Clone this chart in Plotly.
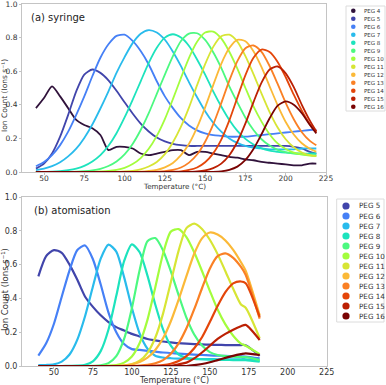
import plotly.graph_objects as go

W, H = 386, 385

# ---------------- data: (a) syringe ----------------
T_A = [45, 50, 55, 60, 65, 70, 75, 80, 85, 90, 95, 100, 105, 110, 115, 120, 125, 130,
       135, 140, 145, 150, 155, 160, 165, 170, 175, 180, 185, 190, 195, 200, 205, 210, 215, 219]

A_PEG4 = [0.38, 0.44, 0.51, 0.45, 0.38, 0.31, 0.28, 0.26, 0.22, 0.13, 0.15, 0.15, 0.14, 0.11, 0.10, 0.11, 0.12, 0.13,
          0.13, 0.10, 0.12, 0.12, 0.11, 0.10, 0.09, 0.085, 0.075, 0.07, 0.06, 0.055, 0.05, 0.045, 0.04, 0.04, 0.05, 0.05]
A_PEG5 = [0.02, 0.05, 0.11, 0.21, 0.34, 0.48, 0.58, 0.61, 0.59, 0.546, 0.484, 0.415, 0.348, 0.288, 0.241, 0.205, 0.182, 0.168,
          0.16, 0.155, 0.155, 0.155, 0.155, 0.155, 0.155, 0.155, 0.155, 0.155, 0.155, 0.155, 0.155, 0.155, 0.15, 0.14, 0.12, 0.11]
A_PEG6 = [0.034, 0.059, 0.10, 0.16, 0.24, 0.34, 0.45, 0.57, 0.68, 0.76, 0.81, 0.817, 0.78, 0.72, 0.64, 0.54, 0.45, 0.38,
          0.32, 0.277, 0.248, 0.23, 0.22, 0.215, 0.21, 0.21, 0.21, 0.215, 0.22, 0.225, 0.23, 0.235, 0.24, 0.245, 0.25, 0.25]
A_PEG7 = [0.011, 0.02, 0.035, 0.058, 0.093, 0.139, 0.203, 0.283, 0.378, 0.48, 0.59, 0.684, 0.767, 0.823, 0.845, 0.83, 0.787, 0.716,
          0.63, 0.534, 0.445, 0.362, 0.293, 0.24, 0.20, 0.173, 0.155, 0.145, 0.14, 0.135, 0.135, 0.135, 0.135, 0.14, 0.14, 0.14]
A_PEG8 = [0.0, 0.001, 0.002, 0.005, 0.011, 0.02, 0.036, 0.062, 0.10, 0.156, 0.231, 0.325, 0.43, 0.54, 0.65, 0.74, 0.80, 0.82,
          0.80, 0.75, 0.67, 0.58, 0.48, 0.39, 0.31, 0.245, 0.197, 0.164, 0.141, 0.127, 0.12, 0.115, 0.112, 0.11, 0.11, 0.11]
A_PEG9 = [0.0, 0.0, 0.0, 0.0, 0.001, 0.002, 0.005, 0.01, 0.019, 0.036, 0.063, 0.105, 0.167, 0.25, 0.35, 0.465, 0.58, 0.69,
          0.78, 0.824, 0.826, 0.786, 0.713, 0.62, 0.51, 0.414, 0.323, 0.25, 0.195, 0.157, 0.132, 0.118, 0.11, 0.105, 0.10, 0.10]
A_PEG10 = [0.0, 0.0, 0.0, 0.0, 0.0, 0.0, 0.0, 0.001, 0.003, 0.006, 0.013, 0.025, 0.047, 0.083, 0.138, 0.215, 0.315, 0.434,
           0.56, 0.68, 0.775, 0.83, 0.836, 0.795, 0.716, 0.615, 0.50, 0.39, 0.30, 0.225, 0.17, 0.137, 0.115, 0.105, 0.098, 0.095]
A_PEG11 = [0.0, 0.0, 0.0, 0.0, 0.0, 0.0, 0.0, 0.0, 0.0, 0.0, 0.001, 0.003, 0.007, 0.016, 0.033, 0.06, 0.106, 0.177,
           0.27, 0.385, 0.517, 0.642, 0.745, 0.808, 0.817, 0.776, 0.69, 0.583, 0.467, 0.357, 0.265, 0.195, 0.147, 0.116, 0.10, 0.095]
A_PEG12 = [0.0, 0.0, 0.0, 0.0, 0.0, 0.0, 0.0, 0.0, 0.0, 0.0, 0.0, 0.0, 0.001, 0.002, 0.006, 0.013, 0.028, 0.054,
           0.10, 0.168, 0.265, 0.385, 0.517, 0.644, 0.738, 0.787, 0.778, 0.719, 0.624, 0.51, 0.397, 0.298, 0.223, 0.171, 0.138, 0.121]
A_PEG13 = [0.0, 0.0, 0.0, 0.0, 0.0, 0.0, 0.0, 0.0, 0.0, 0.0, 0.0, 0.0, 0.0, 0.0, 0.001, 0.002, 0.005, 0.012,
           0.027, 0.056, 0.104, 0.18, 0.283, 0.41, 0.544, 0.66, 0.737, 0.753, 0.715, 0.631, 0.524, 0.411, 0.314, 0.237, 0.185, 0.159]
A_PEG14 = [0.0, 0.0, 0.0, 0.0, 0.0, 0.0, 0.0, 0.0, 0.0, 0.0, 0.0, 0.0, 0.0, 0.0, 0.0, 0.0, 0.001, 0.002,
           0.004, 0.012, 0.027, 0.058, 0.111, 0.193, 0.307, 0.443, 0.577, 0.68, 0.729, 0.714, 0.655, 0.564, 0.46, 0.365, 0.285, 0.238]
A_PEG15 = [0.0, 0.0, 0.0, 0.0, 0.0, 0.0, 0.0, 0.0, 0.0, 0.0, 0.0, 0.0, 0.0, 0.0, 0.0, 0.0, 0.0, 0.0,
           0.0, 0.001, 0.003, 0.009, 0.023, 0.05, 0.10, 0.18, 0.289, 0.416, 0.532, 0.61, 0.628, 0.587, 0.505, 0.40, 0.306, 0.242]
A_PEG16 = [0.0, 0.0, 0.0, 0.0, 0.0, 0.0, 0.0, 0.0, 0.0, 0.0, 0.0, 0.0, 0.0, 0.0, 0.0, 0.0, 0.0, 0.0,
           0.0, 0.0, 0.0, 0.0, 0.001, 0.004, 0.013, 0.032, 0.072, 0.137, 0.225, 0.32, 0.395, 0.42, 0.40, 0.35, 0.28, 0.23]

A_NAMES = ["PEG 4", "PEG 5", "PEG 6", "PEG 7", "PEG 8", "PEG 9", "PEG 10",
           "PEG 11", "PEG 12", "PEG 13", "PEG 14", "PEG 15", "PEG 16"]
A_SERIES = [A_PEG4, A_PEG5, A_PEG6, A_PEG7, A_PEG8, A_PEG9, A_PEG10,
            A_PEG11, A_PEG12, A_PEG13, A_PEG14, A_PEG15, A_PEG16]

# ---------------- data: (b) atomisation ----------------
T_B = [40, 45, 50, 55, 60, 65, 70, 75, 80, 85, 90, 95, 100, 105, 110, 115, 120, 125, 130,
       135, 140, 145, 150, 155, 160, 165, 170, 173, 182]

B_PEG5 = [0.53, 0.65, 0.686, 0.67, 0.60, 0.51, 0.41, 0.35, 0.30, 0.26, 0.23, 0.21, 0.19, 0.175, 0.16, 0.152, 0.145, 0.14, 0.135,
          0.132, 0.13, 0.128, 0.126, 0.125, 0.124, 0.124, 0.124, 0.123, 0.06]
B_PEG6 = [0.061, 0.134, 0.25, 0.41, 0.566, 0.686, 0.713, 0.632, 0.482, 0.316, 0.20, 0.13, 0.10, 0.095, 0.09, 0.085, 0.08, 0.077, 0.073,
          0.07, 0.067, 0.065, 0.063, 0.061, 0.06, 0.058, 0.057, 0.056, 0.045]
B_PEG7 = [0.005, 0.006, 0.01, 0.026, 0.068, 0.156, 0.296, 0.47, 0.635, 0.718, 0.677, 0.526, 0.344, 0.192, 0.103, 0.061, 0.05, 0.046, 0.044,
          0.043, 0.042, 0.041, 0.041, 0.04, 0.04, 0.04, 0.04, 0.04, 0.03]
B_PEG8 = [0.0, 0.0, 0.0, 0.0, 0.001, 0.002, 0.007, 0.028, 0.088, 0.216, 0.415, 0.62, 0.72, 0.673, 0.535, 0.364, 0.217, 0.12, 0.068,
          0.048, 0.042, 0.04, 0.038, 0.037, 0.036, 0.035, 0.035, 0.035, 0.025]
B_PEG9 = [0.0, 0.0, 0.0, 0.0, 0.0, 0.0, 0.0, 0.001, 0.004, 0.017, 0.058, 0.16, 0.342, 0.568, 0.738, 0.757, 0.684, 0.56, 0.419,
          0.286, 0.186, 0.121, 0.082, 0.065, 0.058, 0.055, 0.053, 0.052, 0.035]
B_PEG10 = [0.0, 0.0, 0.0, 0.0, 0.0, 0.0, 0.0, 0.0, 0.0, 0.002, 0.006, 0.02, 0.056, 0.136, 0.273, 0.465, 0.664, 0.795, 0.81,
           0.763, 0.673, 0.562, 0.445, 0.334, 0.246, 0.179, 0.132, 0.12, 0.07]
B_PEG11 = [0.0, 0.0, 0.0, 0.0, 0.0, 0.0, 0.0, 0.0, 0.0, 0.0, 0.001, 0.003, 0.011, 0.031, 0.078, 0.167, 0.31, 0.496, 0.683,
           0.816, 0.842, 0.811, 0.747, 0.662, 0.561, 0.457, 0.364, 0.345, 0.165]
B_PEG12 = [0.0, 0.0, 0.0, 0.0, 0.0, 0.0, 0.0, 0.0, 0.0, 0.0, 0.0, 0.004, 0.01, 0.024, 0.049, 0.095, 0.164, 0.265, 0.393,
           0.532, 0.664, 0.755, 0.79, 0.778, 0.743, 0.687, 0.614, 0.564, 0.30]
B_PEG13 = [0.0, 0.0, 0.0, 0.0, 0.0, 0.0, 0.0, 0.0, 0.0, 0.0, 0.0, 0.0, 0.001, 0.003, 0.007, 0.016, 0.035, 0.073, 0.134,
           0.223, 0.336, 0.46, 0.576, 0.65, 0.666, 0.64, 0.586, 0.54, 0.28]
B_PEG14 = [0.0, 0.0, 0.0, 0.0, 0.0, 0.0, 0.0, 0.0, 0.0, 0.0, 0.0, 0.0, 0.0, 0.0, 0.0, 0.002, 0.005, 0.013, 0.029,
           0.058, 0.105, 0.17, 0.26, 0.355, 0.437, 0.489, 0.50, 0.49, 0.29]
B_PEG15 = [0.0, 0.0, 0.0, 0.0, 0.0, 0.0, 0.0, 0.0, 0.0, 0.0, 0.0, 0.0, 0.0, 0.0, 0.0, 0.0, 0.0, 0.0, 0.01,
           0.02, 0.045, 0.08, 0.12, 0.16, 0.19, 0.215, 0.235, 0.243, 0.154]
B_PEG16 = [0.0, 0.0, 0.0, 0.0, 0.0, 0.0, 0.0, 0.0, 0.0, 0.0, 0.0, 0.0, 0.0, 0.0, 0.0, 0.0, 0.0, 0.0, 0.0,
           0.0, 0.005, 0.012, 0.022, 0.035, 0.048, 0.06, 0.07, 0.075, 0.065]

B_NAMES = ["PEG 5", "PEG 6", "PEG 7", "PEG 8", "PEG 9", "PEG 10",
           "PEG 11", "PEG 12", "PEG 13", "PEG 14", "PEG 15", "PEG 16"]
B_SERIES = [B_PEG5, B_PEG6, B_PEG7, B_PEG8, B_PEG9, B_PEG10,
            B_PEG11, B_PEG12, B_PEG13, B_PEG14, B_PEG15, B_PEG16]

X_TICKS = [50, 75, 100, 125, 150, 175, 200, 225]
Y_TICKS = [0.0, 0.2, 0.4, 0.6, 0.8, 1.0]

# turbo-like colours for PEG 4 ... PEG 16
COLORS = {
    "PEG 4": "#30123b", "PEG 5": "#4145ab", "PEG 6": "#4680f6", "PEG 7": "#29bbec",
    "PEG 8": "#1de3bd", "PEG 9": "#4cf980", "PEG 10": "#a3fd3d", "PEG 11": "#d7e535",
    "PEG 12": "#fbb938", "PEG 13": "#fa8025", "PEG 14": "#e4460a", "PEG 15": "#bc2003",
    "PEG 16": "#7a0403",
}


def px(x):
    return x / W


def py(y):
    return 1 - y / H


FONT = "DejaVu Sans"
TXT = "#333333"
FRAME = "#c4c4c4"

fig = go.Figure()

for name, vals in zip(A_NAMES, A_SERIES):
    fig.add_trace(go.Scatter(x=T_A, y=vals, mode="lines", name=name, showlegend=False,
                             line=dict(color=COLORS[name], width=1.8, shape="spline", smoothing=0.7),
                             xaxis="x", yaxis="y"))
for name, vals in zip(B_NAMES, B_SERIES):
    fig.add_trace(go.Scatter(x=T_B, y=vals, mode="lines", name=name, showlegend=False,
                             line=dict(color=COLORS[name], width=2.2, shape="spline", smoothing=0.7),
                             xaxis="x2", yaxis="y2"))

axis_common = dict(showline=True, mirror=True, linecolor=FRAME, linewidth=1, ticks="outside",
                   ticklen=2, tickcolor=FRAME, showgrid=False, zeroline=False, automargin=False,
                   ticklabeloverflow="allow")

fig.update_layout(
    width=W, height=H, margin=dict(l=0, r=0, t=0, b=0),
    paper_bgcolor="white", plot_bgcolor="white", showlegend=False,
    font=dict(family=FONT, color=TXT, size=8),
    xaxis=dict(domain=[px(22), px(326)], range=[36.35, 225], tickvals=X_TICKS, anchor="y",
               tickfont=dict(size=7.5), ticklabelstandoff=-3, **axis_common),
    yaxis=dict(domain=[py(172), py(4)], range=[0, 1.0], tickvals=Y_TICKS, tickformat=".1f", anchor="x",
               tickfont=dict(size=7.5), **axis_common),
    xaxis2=dict(domain=[px(22), px(326.7)], range=[29.5, 225], tickvals=X_TICKS, anchor="y2",
                tickfont=dict(size=8), ticklabelstandoff=-4, **axis_common),
    yaxis2=dict(domain=[py(366), py(197)], range=[0, 1.0], tickvals=Y_TICKS, tickformat=".1f", anchor="x2",
                tickfont=dict(size=8), **axis_common),
)

# axis titles and panel labels
def ann(text, x, y, size, **kw):
    fig.add_annotation(text=text, x=px(x), y=py(y), xref="paper", yref="paper", showarrow=False,
                       font=dict(family=FONT, size=size, color=kw.pop("color", TXT)), **kw)

ann("Temperature (°C)", 174, 186.5, 7.2, xanchor="center", yanchor="middle")
ann("Temperature (°C)", 174.4, 380.5, 8.0, xanchor="center", yanchor="middle")
ann("Ion Count (Ions s⁻¹)", 5, 96, 7.5, xanchor="center", yanchor="middle", textangle=-90)
ann("Ion Count (Ions s⁻¹)", 5, 290, 8.5, xanchor="center", yanchor="middle", textangle=-90)
ann("(a) syringe", 29, 17, 10, xanchor="left", yanchor="middle", color="#222222")
ann("(b) atomisation", 32, 211, 10, xanchor="left", yanchor="middle", color="#222222")


# legends drawn as shapes + text (compact spacing like the original)
def legend(names, box, y_first, step, mx, tx, r, fsize):
    x0, y0, x1, y1 = box
    fig.add_shape(type="rect", xref="paper", yref="paper", x0=px(x0), x1=px(x1), y0=py(y1), y1=py(y0),
                  line=dict(color="#dcdcdc", width=1), fillcolor="white", layer="above")
    for i, n in enumerate(names):
        yy = y_first + i * step
        fig.add_shape(type="circle", xref="paper", yref="paper", xsizemode="pixel", ysizemode="pixel",
                      xanchor=px(mx), yanchor=py(yy), x0=-r, x1=r, y0=-r, y1=r,
                      fillcolor=COLORS[n], line=dict(width=0), layer="above")
        ann(n, tx, yy, fsize, xanchor="left", yanchor="middle")


legend(A_NAMES, (346, 6, 385, 111), 10.7, 8.0, 353.3, 361.5, 2.3, 5.5)
legend(B_NAMES, (336.7, 199, 384, 322), 206, 10.0, 346, 356.5, 3.6, 7.2)

fig.write_html("out.html", config={"displayModeBar": False},
               post_script="document.body.style.margin='0px';document.body.style.padding='0px';"
                           "document.body.style.overflow='hidden';")
